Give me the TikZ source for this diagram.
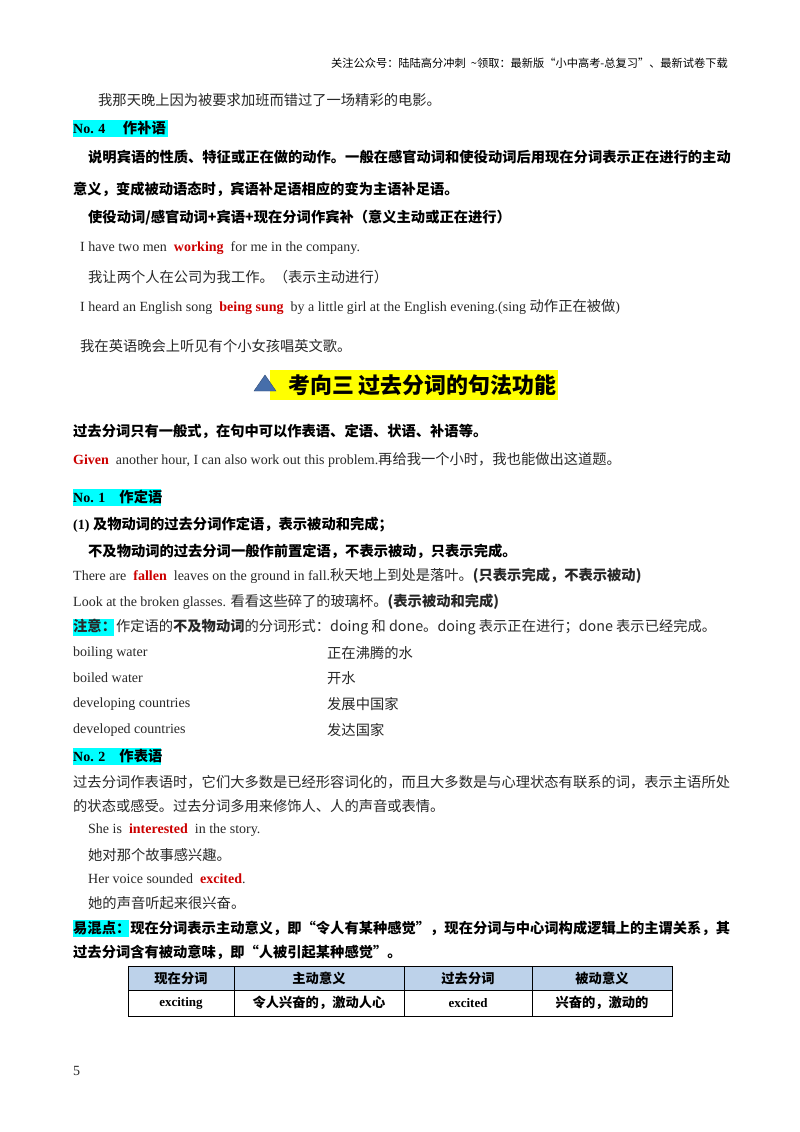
\documentclass[tikz,border=0pt]{standalone}
\usepackage{fontspec}
\setmainfont{Liberation Serif}
\newfontfamily\cjk[Scale=1.02]{Noto Sans CJK SC}
\definecolor{hlcyan}{RGB}{0,255,255}
\definecolor{hlyellow}{RGB}{255,255,0}
\definecolor{redw}{RGB}{204,0,0}
\definecolor{txt}{RGB}{40,40,40}
\definecolor{thead}{RGB}{189,210,234}
\definecolor{tri}{RGB}{70,110,170}
\newcommand{\zh}[1]{{\cjk #1}}
\newcommand{\rw}[1]{\textbf{\textcolor{redw}{#1}}}
\begin{document}
\begin{tikzpicture}[x=1pt,y=-1pt,
  t/.style={anchor=west,inner sep=0pt,font=\fontsize{14}{16}\selectfont,text=txt},
  tb/.style={t,font=\fontsize{14}{16}\selectfont\bfseries,text=black},
  cell/.style={anchor=center,inner sep=0pt,font=\fontsize{13}{15}\selectfont\bfseries}]
\useasboundingbox[fill=white] (0,0) rectangle (800,1132);
\node[anchor=east,inner sep=0pt,font=\fontsize{11}{13}\selectfont] (hdr) at (728,63) {\zh{关注公众号：陆陆高分冲刺\ \ \textasciitilde 领取：最新版“小中高考-总复习”、最新试卷下载}};
\node[t] (l1) at (98,100) {\zh{我那天晚上因为被要求加班而错过了一场精彩的电影。}};
\fill[hlcyan] (73,120) rectangle (168,137);
\node[tb] (l2) at (73,128) {No. 4\quad\ \zh{\bfseries 作补语}};
\node[tb] (l3) at (88,157) {\zh{\bfseries 说明宾语的性质、特征或正在做的动作。一般在感官动词和使役动词后用现在分词表示正在进行的主动}};
\node[tb] (l4) at (73,189) {\zh{\bfseries 意义，变成被动语态时，宾语补足语相应的变为主语补足语。}};
\node[tb] (l5) at (88,218) {\zh{\bfseries 使役动词/感官动词+宾语+现在分词作宾补（意义主动或正在进行）}};
\node[t] (l6) at (80,248) {I have two men\ \ \rw{working}\ \ for me in the company.};
\node[t] (l7) at (88,277) {\zh{我让两个人在公司为我工作。（表示主动进行）}};
\node[t] (l8) at (80,307) {I heard an English song\ \ \rw{being sung}\ \ by a little girl at the English evening.(sing \zh{动作正在被做})};
\node[t] (l9) at (80,346) {\zh{我在英语晚会上听见有个小女孩唱英文歌。}};
\fill[hlyellow] (270,370) rectangle (558,400);
\fill[tri,draw=tri!70!black] (254,391) -- (276,391) -- (265,375) -- cycle;
\node[anchor=west,inner sep=0pt,font=\fontsize{21.5}{24}\selectfont] (title) at (288,385) {\zh{\bfseries 考向三\ 过去分词的句法功能}};
\node[tb] (l10) at (73,431) {\zh{\bfseries 过去分词只有一般式，在句中可以作表语、定语、状语、补语等。}};
\node[t] (l11) at (73,460) {\rw{Given}\ \ another hour, I can also work out this problem.\zh{再给我一个小时，我也能做出这道题。}};
\fill[hlcyan] (73,489) rectangle (161,506);
\node[tb] (l12) at (73,497) {No. 1\quad\zh{\bfseries 作定语}};
\node[tb] (l13) at (73,525) {(1) \zh{\bfseries 及物动词的过去分词作定语，表示被动和完成；}};
\node[tb] (l14) at (88,551) {\zh{\bfseries 不及物动词的过去分词一般作前置定语，不表示被动，只表示完成。}};
\node[t] (l15) at (73,576) {There are\ \ \rw{fallen}\ \ leaves on the ground in fall.\zh{秋天地上到处是落叶。}\zh{\bfseries (只表示完成，不表示被动)}};
\node[t] (l16) at (73,602) {Look at the broken glasses. \zh{看看这些碎了的玻璃杯。}\zh{\bfseries (表示被动和完成)}};
\fill[hlcyan] (73,619) rectangle (114,636);
\node[t] (l17) at (73,627) {\zh{\textbf{注意：}作定语的\textbf{不及物动词}的分词形式：doing 和 done。doing 表示正在进行；done 表示已经完成。}};
\node[t] (a1) at (73,653) {boiling water};   \node[t] (b1) at (327,653) {\zh{正在沸腾的水}};
\node[t] (a2) at (73,678) {boiled water};    \node[t] (b2) at (327,678) {\zh{开水}};
\node[t] (a3) at (73,704) {developing countries}; \node[t] (b3) at (327,704) {\zh{发展中国家}};
\node[t] (a4) at (73,730) {developed countries};  \node[t] (b4) at (327,730) {\zh{发达国家}};
\fill[hlcyan] (73,748) rectangle (161,765);
\node[tb] (l18) at (73,756) {No. 2\quad\zh{\bfseries 作表语}};
\node[t] (l19) at (73,782) {\zh{过去分词作表语时，它们大多数是已经形容词化的，而且大多数是与心理状态有联系的词，表示主语所处}};
\node[t] (l20) at (73,806) {\zh{的状态或感受。过去分词多用来修饰人、人的声音或表情。}};
\node[t] (l21) at (88,830) {She is\ \ \rw{interested}\ \ in the story.};
\node[t] (l22) at (88,855) {\zh{她对那个故事感兴趣。}};
\node[t] (l23) at (88,879) {Her voice sounded\ \ \rw{excited}.};
\node[t] (l24) at (88,903) {\zh{她的声音听起来很兴奋。}};
\fill[hlcyan] (73,920) rectangle (129,937);
\node[tb] (l25) at (73,928) {\zh{\bfseries 易混点：现在分词表示主动意义，即“令人有某种感觉”，现在分词与中心词构成逻辑上的主谓关系，其}};
\node[tb] (l26) at (73,952) {\zh{\bfseries 过去分词含有被动意味，即“人被引起某种感觉”。}};
\fill[thead] (128,966) rectangle (672,990);
\draw[line width=0.8pt] (128,966) rectangle (672,1016);
\draw[line width=0.6pt] (128,990) -- (672,990);
\foreach \x in {234,404,532} \draw[line width=0.6pt] (\x,966) -- (\x,1016);
\node[cell] (h1) at (181,978) {\zh{\bfseries 现在分词}};
\node[cell] (h2) at (319,978) {\zh{\bfseries 主动意义}};
\node[cell] (h3) at (468,978) {\zh{\bfseries 过去分词}};
\node[cell] (h4) at (602,978) {\zh{\bfseries 被动意义}};
\node[cell] (c1) at (181,1003) {exciting};
\node[cell] (c2) at (319,1003) {\zh{\bfseries 令人兴奋的，激动人心}};
\node[cell] (c3) at (468,1003) {excited};
\node[cell] (c4) at (602,1003) {\zh{\bfseries 兴奋的，激动的}};
\node[t] (pg) at (73,1071) {5};
\end{tikzpicture}
\end{document}
